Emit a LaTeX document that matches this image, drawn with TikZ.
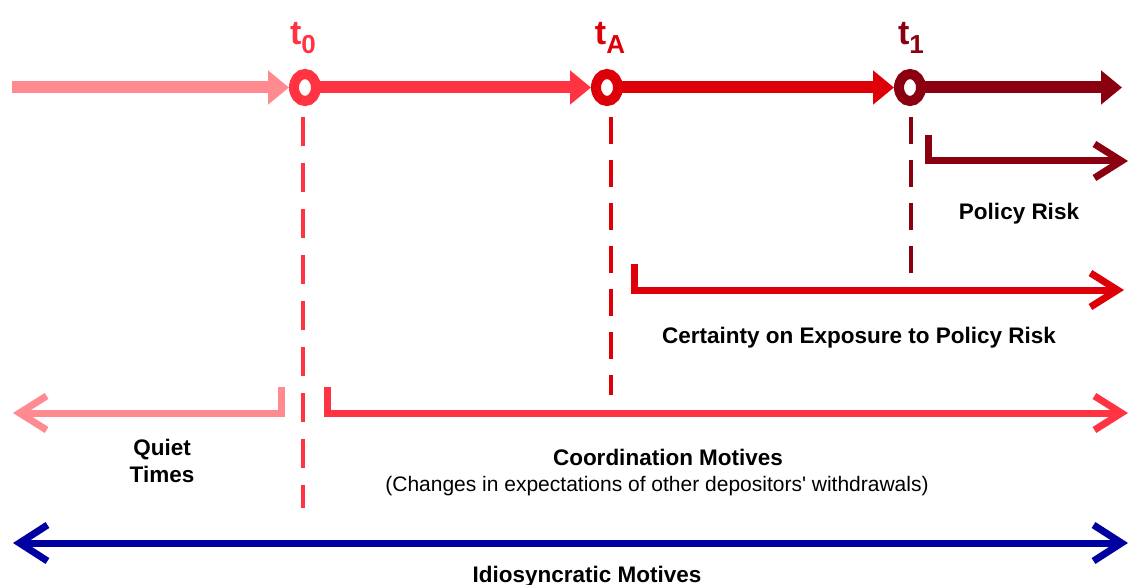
\documentclass[tikz,border=0pt]{standalone}
\usepackage{fontspec}
\setmainfont{Liberation Sans}
\newfontfamily\plainsans{Liberation Sans}
\usetikzlibrary{arrows.meta,shapes.geometric}
\definecolor{cPink}{HTML}{FF8A90}
\definecolor{cRed}{HTML}{FF3341}
\definecolor{cDark}{HTML}{DD0009}
\definecolor{cMaroon}{HTML}{8B0010}
\definecolor{cBlue}{HTML}{0000A0}
\tikzset{
  ring/.style={draw=#1, fill=white, ellipse, minimum width=22pt, minimum height=27pt, inner sep=0pt, outer sep=0pt, line width=10pt},
  tl/.style={draw=#1, line width=12pt, -{Triangle[length=21pt,width=33pt]}, shorten >=5pt},
  dline/.style={draw=#1, line width=4.5pt, dash pattern=on 28pt off 16pt},
  bracket/.style={draw=#1, line width=7pt, line join=miter, line cap=butt},
  barb/.style={-{Straight Barb[length=27pt,width=34pt,line width=7pt]}},
  tlab/.style={text=#1, font=\bfseries\fontsize{34}{34}\selectfont, anchor=base, inner sep=0pt},
  blab/.style={font=\bfseries\fontsize{22.5}{27}\selectfont, anchor=base, inner sep=0pt, align=center},
  rlab/.style={font=\plainsans\fontsize{21}{25}\selectfont, anchor=base, inner sep=0pt},
}
\begin{document}
\begin{tikzpicture}[x=1pt,y=-1pt]
\useasboundingbox (0,0) rectangle (1134,585);
% circles
\node[ring=cRed] (c0) at (305,87.5) {};
\node[ring=cDark] (cA) at (607,87.5) {};
\node[ring=cMaroon] (c1) at (910,87.5) {};
% labels
\node[tlab=cRed] (l0) at (303,45) {t\raisebox{-9pt}{\fontsize{26}{26}\selectfont 0}};
\node[tlab=cDark] (lA) at (610,45) {t\raisebox{-9pt}{\fontsize{26}{26}\selectfont A}};
\node[tlab=cMaroon] (l1) at (911,45) {t\raisebox{-9pt}{\fontsize{26}{26}\selectfont 1}};
% timeline
\coordinate (s) at (12,87.5);
\coordinate (e) at (1122,87.5);
\draw[tl=cPink] (s) -- (c0.west);
\draw[tl=cRed] (c0.east) -- (cA.west);
\draw[tl=cDark] (cA.east) -- (c1.west);
\draw[tl=cMaroon, shorten >=0pt] (c1.east) -- (e);
% dashed verticals
\coordinate (d0) at (303,508);
\coordinate (dA) at (611,395);
\coordinate (d1) at (911,278);
\draw[dline=cRed, dash pattern=on 29pt off 17pt] (303,117) -- (d0);
\draw[dline=cDark, dash pattern=on 27pt off 16pt] (611,117) -- (dA);
\draw[dline=cMaroon, dash pattern=on 27pt off 16pt] (911,117) -- (d1);
% policy risk bracket
\coordinate (p0) at (928,135);
\coordinate (p1) at (928,161);
\coordinate (p2) at (1128,161);
\draw[bracket=cMaroon, barb] (p0) -- (p1) -- (p2);
\node[blab] (pr) at (1019,220) {Policy Risk};
% certainty bracket
\coordinate (q0) at (634,264);
\coordinate (q1) at (634,290);
\coordinate (q2) at (1124,290);
\draw[bracket=cDark, barb] (q0) -- (q1) -- (q2);
\node[blab] (ce) at (859,343) {Certainty on Exposure to Policy Risk};
% quiet times bracket
\coordinate (r0) at (281,387);
\coordinate (r1) at (281,413);
\coordinate (r2) at (13,413);
\draw[bracket=cPink, barb] (r0) -- (r1) -- (r2);
\node[blab] (qt) at (162,455) {Quiet};
\node[blab] (qt2) at (162,482) {Times};
% coordination bracket
\coordinate (k0) at (327,387);
\coordinate (k1) at (327,413);
\coordinate (k2) at (1128,413);
\draw[bracket=cRed, barb] (k0) -- (k1) -- (k2);
\node[blab] (cm) at (668,465) {Coordination Motives};
\node[rlab] (cm2) at (657,491) {(Changes in expectations of other depositors' withdrawals)};
% idiosyncratic
\coordinate (b0) at (13,543);
\coordinate (b1) at (1128,543);
\draw[draw=cBlue, line width=7pt, {Straight Barb[length=28pt,width=36pt,line width=7pt]}-{Straight Barb[length=28pt,width=36pt,line width=7pt]}] (b0) -- (b1);
\node[blab] (im) at (587,582) {Idiosyncratic Motives};
\end{tikzpicture}
\end{document}
